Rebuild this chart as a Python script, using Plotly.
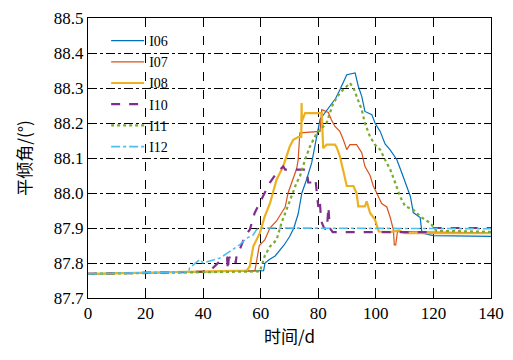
import plotly.graph_objects as go

x_i06 = [0, 20, 40, 61, 61.5, 63, 65, 66.5, 68, 70, 71.5, 73, 74.3, 76, 77.7, 80.6, 82, 84, 86, 87.5, 89, 89.9, 92.8, 93.9, 95.1, 96.2, 98.6, 99.7, 101.5, 103.2, 104.9, 107.3, 109, 110.8, 112, 113, 115.4, 116, 120, 140]
y_i06 = [87.769, 87.772, 87.775, 87.778, 87.8, 87.81, 87.82, 87.835, 87.85, 87.875, 87.9, 87.94, 88.0, 88.04, 88.086, 88.21, 88.225, 88.246, 88.27, 88.295, 88.32, 88.338, 88.343, 88.305, 88.276, 88.233, 88.224, 88.2, 88.176, 88.14, 88.124, 88.095, 88.058, 88.019, 87.99, 87.944, 87.93, 87.886, 87.878, 87.876]

x_i07 = [0, 20, 40, 58, 59.5, 61.4, 63.2, 65.5, 67, 68.5, 69.5, 71.2, 72.5, 73, 73.6, 80.6, 81.2, 83.5, 84.5, 85.8, 87.5, 88.7, 89.9, 91, 93.3, 95.1, 96.2, 98, 99.1, 100.3, 102, 103.8, 105, 106.1, 106.4, 106.9, 107.5, 120, 140]
y_i07 = [87.769, 87.772, 87.775, 87.778, 87.85, 87.866, 87.9, 87.92, 87.94, 87.96, 88.0, 88.04, 88.07, 88.095, 88.172, 88.176, 88.238, 88.23, 88.21, 88.19, 88.176, 88.152, 88.124, 88.138, 88.138, 88.115, 88.076, 88.05, 88.02, 88.0, 87.97, 87.96, 87.93, 87.895, 87.852, 87.852, 87.89, 87.888, 87.886]

x_i08 = [0, 20, 40, 55.1, 56.2, 57.4, 59.7, 61.4, 63.2, 65.5, 67.8, 69, 70.1, 71.3, 73, 74.1, 74.2, 74.3, 75.4, 81.2, 81.7, 82.9, 85.8, 86.4, 87.5, 89.9, 92.2, 93.3, 93.9, 96.2, 96.8, 98, 99.7, 100.3, 101, 105, 108, 110, 140]
y_i08 = [87.769, 87.772, 87.775, 87.778, 87.79, 87.847, 87.886, 87.933, 87.97, 88.038, 88.076, 88.105, 88.133, 88.152, 88.16, 88.16, 88.257, 88.205, 88.228, 88.228, 88.128, 88.138, 88.138, 88.13, 88.105, 88.02, 88.02, 88.0, 87.962, 87.962, 87.976, 87.943, 87.924, 87.905, 87.89, 87.888, 87.893, 87.885, 87.885]

x_i10 = [0, 20, 40, 42.9, 43.4, 46.4, 48.3, 48.6, 48.9, 51, 51.3, 51.6, 52.7, 54.5, 56.2, 57.9, 59.7, 61.4, 63.2, 65.5, 67.8, 68.5, 76, 76.5, 78, 79, 79.5, 80, 80.5, 81, 82, 83, 83.5, 84, 85, 119, 119.5, 140]
y_i10 = [87.769, 87.772, 87.775, 87.778, 87.786, 87.81, 87.815, 87.78, 87.815, 87.82, 87.8, 87.82, 87.838, 87.876, 87.895, 87.943, 87.971, 88.0, 88.03, 88.057, 88.076, 88.067, 88.067, 88.03, 88.03, 88.04, 87.99, 87.96, 87.98, 87.92, 87.9, 87.895, 87.96, 87.9, 87.888, 87.888, 87.9, 87.9]

x_i11 = [0, 20, 40, 59.7, 61.4, 63.2, 65.5, 67.2, 68.4, 70.1, 71.3, 72.5, 73.6, 75.4, 77.1, 79.4, 82.9, 85.2, 87.5, 89.9, 91, 92.2, 93.3, 95.1, 96.2, 98, 99.7, 101.5, 103.2, 105, 106.7, 108.4, 110.2, 113, 115.4, 118.9, 121, 140]
y_i11 = [87.769, 87.772, 87.775, 87.776, 87.82, 87.847, 87.866, 87.914, 87.94, 87.98, 88.005, 88.03, 88.047, 88.095, 88.133, 88.17, 88.2, 88.257, 88.286, 88.305, 88.314, 88.3, 88.276, 88.238, 88.2, 88.16, 88.138, 88.124, 88.095, 88.067, 88.03, 87.99, 87.962, 87.952, 87.933, 87.914, 87.892, 87.889]

x_i12 = [0, 20, 35, 35.3, 38.8, 40, 42.3, 45.8, 49.3, 52.7, 55.1, 57.4, 58.5, 59.7, 60.8, 140]
y_i12 = [87.769, 87.772, 87.775, 87.786, 87.81, 87.8, 87.805, 87.814, 87.833, 87.852, 87.871, 87.88, 87.895, 87.9, 87.9, 87.898]

x_ticks = [0, 20, 40, 60, 80, 100, 120, 140]
y_ticks = [87.7, 87.8, 87.9, 88.0, 88.1, 88.2, 88.3, 88.4, 88.5]

series = [
    ("I06", x_i06, y_i06, "#0072BD", 1.2, "solid"),
    ("I07", x_i07, y_i07, "#D95319", 1.2, "solid"),
    ("I08", x_i08, y_i08, "#EDB120", 2.2, "solid"),
    ("I10", x_i10, y_i10, "#7E2F8E", 2.2, "dash"),
    ("I11", x_i11, y_i11, "#77AC30", 2.2, "dot"),
    ("I12", x_i12, y_i12, "#4DBEEE", 1.6, "dashdot"),
]

fig = go.Figure()
for name, xs, ys, color, width, dash in series:
    fig.add_trace(go.Scatter(x=xs, y=ys, name=name, mode="lines",
                             line=dict(color=color, width=width, dash=dash)))

serif = "Liberation Serif, DejaVu Serif, serif"
cjk = "Noto Sans CJK SC"
fig.update_layout(
    width=505, height=352,
    margin=dict(l=80, r=22, t=10, b=62, autoexpand=False),
    paper_bgcolor="white", plot_bgcolor="white",
    font=dict(family=serif, size=17, color="black"),
    legend=dict(x=0.045, y=0.975, xanchor="left", yanchor="top",
                bgcolor="rgba(0,0,0,0)", font=dict(family=serif, size=14),
                tracegroupgap=0, itemwidth=33),
    showlegend=True,
)
fig.update_xaxes(
    range=[0, 140], tickvals=x_ticks, ticktext=[str(v) for v in x_ticks],
    showgrid=True, gridcolor="black", gridwidth=1, griddash="dash",
    showline=True, linecolor="black", linewidth=1, mirror=True,
    ticks="inside", ticklen=4, tickcolor="black", zeroline=False,
    tickfont=dict(family=serif, size=17), automargin=False,
    title=dict(text="时间/d", font=dict(family=cjk, size=17), standoff=5),
)
fig.update_yaxes(
    range=[87.7, 88.5], tickvals=y_ticks, ticktext=[f"{v:.1f}" for v in y_ticks],
    showgrid=True, gridcolor="black", gridwidth=1, griddash="dashdot",
    showline=True, linecolor="black", linewidth=1, mirror=True,
    ticks="inside", ticklen=4, tickcolor="black", zeroline=False,
    tickfont=dict(family=serif, size=17), automargin=False,
    title=dict(text="平倾角/(°)", font=dict(family=cjk, size=17), standoff=17),
)
fig.write_html("out.html")
